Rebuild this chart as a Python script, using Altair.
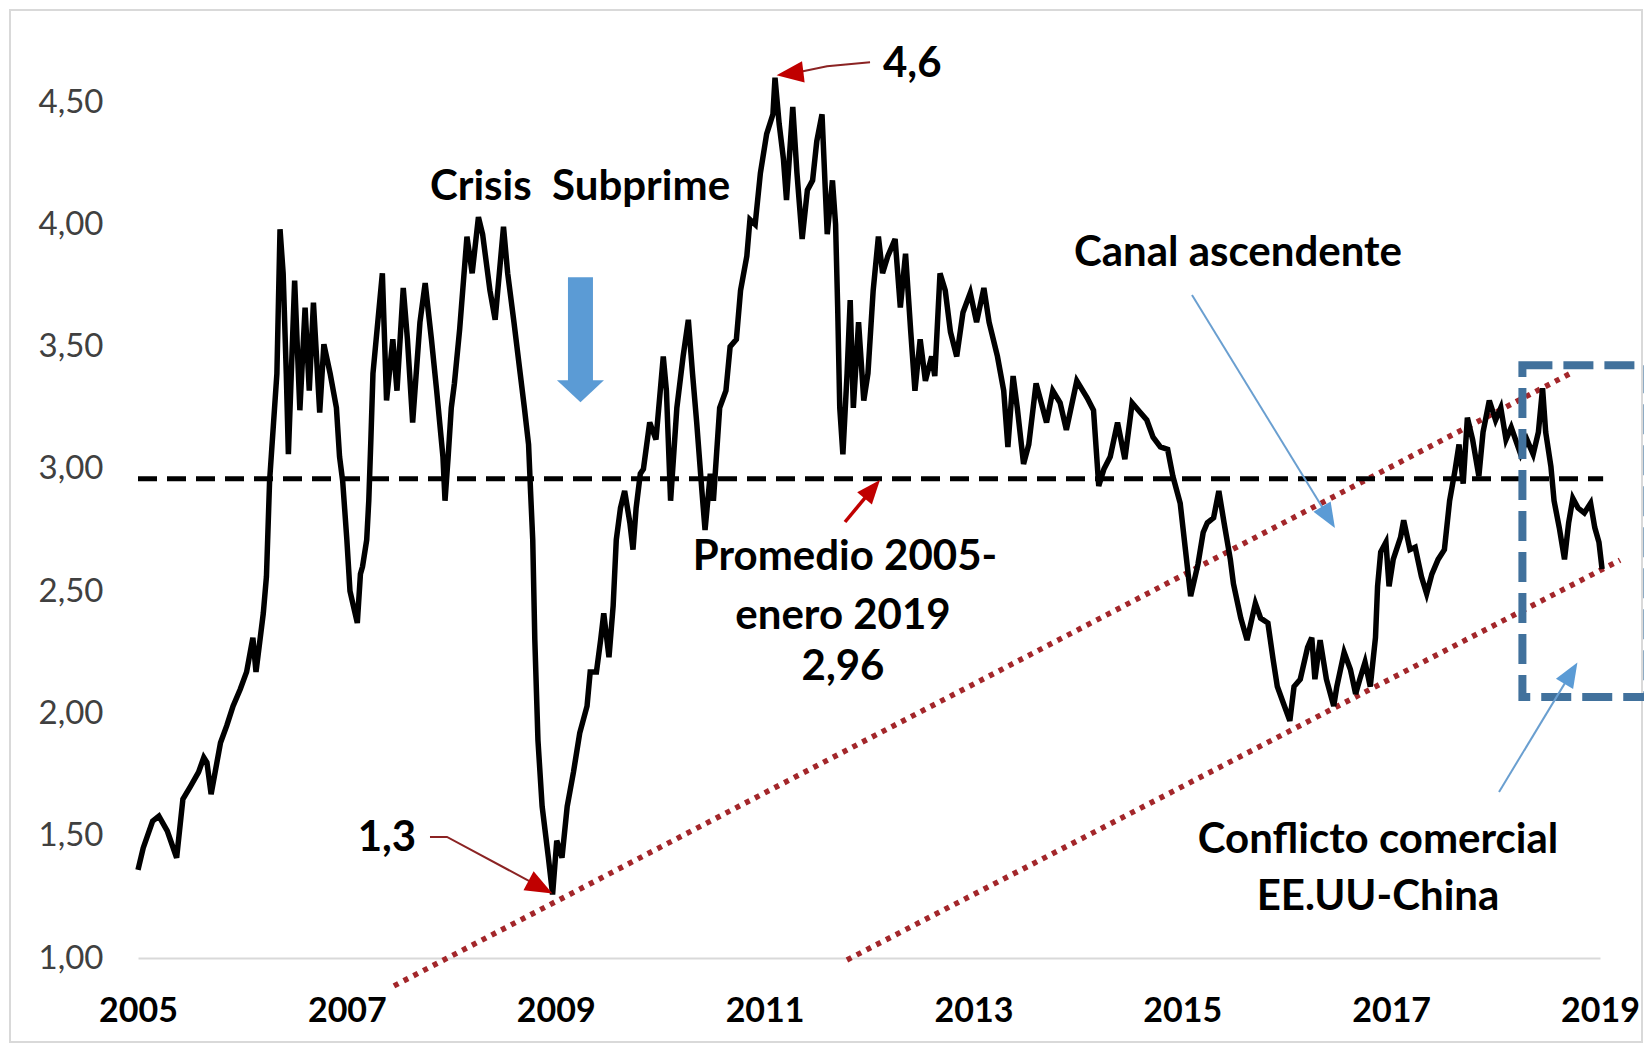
import altair as alt
import pandas as pd

# ---------------- data ----------------
years = [
    2005.00, 2005.05, 2005.14, 2005.20, 2005.28, 2005.37, 2005.43, 2005.50, 2005.58, 2005.63,
    2005.66, 2005.70, 2005.79, 2005.85, 2005.91, 2005.98, 2006.04, 2006.10, 2006.13, 2006.20,
    2006.23, 2006.26, 2006.33, 2006.36, 2006.39, 2006.42, 2006.44, 2006.50, 2006.55, 2006.60,
    2006.64, 2006.68, 2006.74, 2006.78, 2006.84, 2006.90, 2006.93, 2006.96, 2007.00, 2007.03,
    2007.10, 2007.13, 2007.15, 2007.19, 2007.21, 2007.23, 2007.25, 2007.34, 2007.38, 2007.44,
    2007.48, 2007.54, 2007.58, 2007.63, 2007.70, 2007.75, 2007.81, 2007.86, 2007.92, 2007.94,
    2007.97, 2008.00, 2008.03, 2008.08, 2008.15, 2008.20, 2008.26, 2008.30, 2008.37, 2008.42,
    2008.50, 2008.54, 2008.60, 2008.66, 2008.70, 2008.74, 2008.76, 2008.78, 2008.80, 2008.83,
    2008.87, 2008.93, 2008.97, 2009.01, 2009.06, 2009.11, 2009.17, 2009.23, 2009.30, 2009.33,
    2009.39, 2009.43, 2009.46, 2009.51, 2009.55, 2009.58, 2009.62, 2009.66, 2009.71, 2009.74,
    2009.77, 2009.81, 2009.84, 2009.90, 2009.96, 2010.03, 2010.06, 2010.10, 2010.16, 2010.22,
    2010.27, 2010.31, 2010.35, 2010.40, 2010.43, 2010.48, 2010.51, 2010.57, 2010.63, 2010.67,
    2010.73, 2010.77, 2010.83, 2010.86, 2010.91, 2010.96, 2011.02, 2011.08, 2011.10, 2011.14,
    2011.18, 2011.21, 2011.27, 2011.31, 2011.36, 2011.41, 2011.46, 2011.50, 2011.55, 2011.60,
    2011.65, 2011.68, 2011.70, 2011.72, 2011.75, 2011.79, 2011.82, 2011.85, 2011.90, 2011.95,
    2011.99, 2012.04, 2012.09, 2012.13, 2012.18, 2012.25, 2012.30, 2012.35, 2012.40, 2012.44,
    2012.49, 2012.54, 2012.60, 2012.63, 2012.68, 2012.73, 2012.78, 2012.84, 2012.90, 2012.97,
    2013.03, 2013.10, 2013.15, 2013.23, 2013.29, 2013.33, 2013.38, 2013.42, 2013.48, 2013.53,
    2013.60, 2013.70, 2013.76, 2013.83, 2013.89, 2013.99, 2014.09, 2014.15, 2014.20, 2014.25,
    2014.31, 2014.38, 2014.45, 2014.52, 2014.60, 2014.66, 2014.72, 2014.79, 2014.86, 2014.91,
    2014.98, 2015.03, 2015.08, 2015.15, 2015.20, 2015.24, 2015.30, 2015.35, 2015.40, 2015.46,
    2015.49, 2015.53, 2015.56, 2015.62, 2015.70, 2015.75, 2015.82, 2015.87, 2015.91, 2015.97,
    2016.03, 2016.07, 2016.13, 2016.20, 2016.24, 2016.27, 2016.32, 2016.38, 2016.45, 2016.48,
    2016.55, 2016.61, 2016.66, 2016.70, 2016.75, 2016.80, 2016.85, 2016.87, 2016.90, 2016.95,
    2016.98, 2017.02, 2017.09, 2017.12, 2017.18, 2017.23, 2017.29, 2017.34, 2017.39, 2017.45,
    2017.51, 2017.56, 2017.61, 2017.65, 2017.69, 2017.73, 2017.78, 2017.84, 2017.88, 2017.94,
    2018.00, 2018.05, 2018.10, 2018.15, 2018.24, 2018.30, 2018.36, 2018.41, 2018.45, 2018.48,
    2018.53, 2018.56, 2018.61, 2018.66, 2018.70, 2018.74, 2018.79, 2018.85, 2018.91, 2018.95,
    2018.99, 2019.02,
]
price = [
    1.36, 1.45, 1.56, 1.58, 1.52, 1.41, 1.65, 1.70, 1.76, 1.82,
    1.80, 1.67, 1.88, 1.95, 2.03, 2.10, 2.17, 2.31, 2.17, 2.41,
    2.56, 2.95, 3.39, 3.98, 3.80, 3.39, 3.06, 3.77, 3.24, 3.66,
    3.32, 3.68, 3.23, 3.51, 3.39, 3.25, 3.05, 2.95, 2.71, 2.50,
    2.37, 2.57, 2.60, 2.71, 2.87, 3.12, 3.39, 3.80, 3.28, 3.53,
    3.32, 3.74, 3.53, 3.19, 3.60, 3.76, 3.53, 3.32, 3.05, 2.87,
    3.05, 3.25, 3.35, 3.57, 3.95, 3.80, 4.03, 3.96, 3.73, 3.61,
    3.99, 3.80, 3.60, 3.39, 3.25, 3.10, 2.90, 2.71, 2.30, 1.89,
    1.62, 1.41, 1.26, 1.48, 1.41, 1.62, 1.76, 1.92, 2.03, 2.17,
    2.17, 2.30, 2.41, 2.23, 2.44, 2.71, 2.84, 2.91, 2.78, 2.67,
    2.84, 2.98, 3.00, 3.19, 3.12, 3.46, 3.32, 2.87, 3.25, 3.46,
    3.61, 3.39, 3.19, 2.91, 2.75, 2.98, 2.87, 3.25, 3.32, 3.50,
    3.53, 3.73, 3.87, 4.02, 4.00, 4.21, 4.37, 4.45, 4.60, 4.41,
    4.27, 4.10, 4.48, 4.21, 3.94, 4.14, 4.18, 4.34, 4.45, 3.96,
    4.18, 4.00, 3.66, 3.25, 3.06, 3.39, 3.69, 3.25, 3.60, 3.28,
    3.39, 3.73, 3.95, 3.80, 3.87, 3.94, 3.66, 3.88, 3.56, 3.32,
    3.53, 3.36, 3.46, 3.38, 3.80, 3.73, 3.56, 3.46, 3.64, 3.72,
    3.60, 3.74, 3.60, 3.46, 3.32, 3.09, 3.38, 3.25, 3.02, 3.10,
    3.35, 3.19, 3.32, 3.27, 3.16, 3.36, 3.29, 3.24, 2.93, 3.00,
    3.05, 3.19, 3.04, 3.27, 3.23, 3.20, 3.13, 3.09, 3.08, 2.97,
    2.86, 2.67, 2.48, 2.61, 2.74, 2.78, 2.80, 2.91, 2.78, 2.63,
    2.53, 2.45, 2.39, 2.30, 2.45, 2.39, 2.37, 2.22, 2.11, 2.04,
    1.97, 2.11, 2.14, 2.27, 2.31, 2.14, 2.30, 2.14, 2.03, 2.11,
    2.25, 2.18, 2.08, 2.14, 2.21, 2.11, 2.31, 2.52, 2.66, 2.70,
    2.52, 2.63, 2.72, 2.79, 2.67, 2.68, 2.56, 2.49, 2.57, 2.63,
    2.67, 2.87, 2.99, 3.10, 2.94, 3.21, 3.12, 2.97, 3.15, 3.28,
    3.20, 3.25, 3.12, 3.17, 3.06, 3.12, 3.06, 3.15, 3.33, 3.15,
    3.01, 2.87, 2.76, 2.63, 2.78, 2.88, 2.84, 2.82, 2.86, 2.76,
    2.70, 2.59,
]
average_value = 2.96
x_tick_years = [2005, 2007, 2009, 2011, 2013, 2015, 2017, 2019]
y_tick_values = [1.0, 1.5, 2.0, 2.5, 3.0, 3.5, 4.0, 4.5]

# channel (trend) lines: start/end points in data units
channel_t = [2007.451, 2018.741, 2011.789, 2019.192]
channel_p = [0.886, 3.396, 0.992, 2.627]
channel_id = ["superior", "superior", "inferior", "inferior"]

# annotation texts
note_text = ["4,6", "Crisis\u00a0 Subprime", "Canal ascendente", "Promedio 2005-",
             "enero 2019", "2,96", "1,3", "Conflicto comercial", "EE.UU-China"]
note_t = [2012.134, 2009.233, 2015.533, 2011.770, 2011.751, 2011.751, 2007.384, 2016.874, 2016.874]
note_p = [4.655, 4.152, 3.882, 2.639, 2.398, 2.190, 1.491, 1.482, 1.249]
note_align = ["left", "center", "center", "center", "center", "center", "center", "center", "center"]

FONT = "Lato"

# ---------------- scales / axes ----------------
xscale = alt.Scale(domain=[2005, 2019], nice=False, zero=False)
yscale = alt.Scale(domain=[1.0, 4.75], nice=False, zero=False)

X = alt.X("t:Q", scale=xscale, title=None,
          axis=alt.Axis(values=x_tick_years, format="d", grid=False, ticks=False, tickSize=0,
                        domainColor="#D9D9D9", domainWidth=2, labelFont=FONT, labelFontSize=34,
                        labelFontWeight="bold", labelColor="#000000", labelPadding=36,
                        labelFlush=False, labelOverlap=False))
Y = alt.Y("p:Q", scale=yscale, title=None,
          axis=alt.Axis(values=y_tick_values,
                        labelExpr="replace(format(datum.value, '.2f'), '.', ',')",
                        grid=False, domain=False, ticks=False, tickSize=0, labelPadding=35,
                        labelFont=FONT, labelFontSize=33, labelColor="#404040",
                        labelOverlap=False))

price_df = pd.DataFrame({"t": years, "p": price})

# frame around the whole chart (decoration)
frame = alt.Chart(pd.DataFrame({"a": [0]})).mark_rect(
    fill=None, stroke="#D9D9D9", strokeWidth=2
).encode(x=alt.value(-128), x2=alt.value(1504), y=alt.value(-31), y2=alt.value(1001))

# average dashed line
avg_df = pd.DataFrame({"t": [2005.0], "t2": [2019.03], "p": [average_value]})
avg_line = alt.Chart(avg_df).mark_rule(color="#000000", strokeWidth=5, strokeDash=[19, 10]).encode(
    x=X, x2=alt.X2("t2"), y=Y)

# red dotted channel lines
chan_df = pd.DataFrame({"t": channel_t, "p": channel_p, "id": channel_id})
channel = alt.Chart(chan_df).mark_line(color="#A3262A", strokeWidth=5.5, strokeDash=[5, 6]).encode(
    x=X, y=Y, detail="id:N")

# price line
line = alt.Chart(price_df).mark_line(color="#000000", strokeWidth=5.5, strokeJoin="miter").encode(x=X, y=Y)

# blue dashed box
box_df = pd.DataFrame({"t": [2018.257], "t2": [2019.454], "p": [3.424], "p2": [2.067]})
box = alt.Chart(box_df).mark_rect(fill=None, stroke="#41719C", strokeWidth=8,
                                  strokeDash=[30, 11]).encode(
    x=X, x2=alt.X2("t2"), y=Y, y2=alt.Y2("p2"))

# big blue block arrow (Crisis Subprime)
shaft_df = pd.DataFrame({"t": [2009.237], "p": [3.784], "p2": [3.355]})
shaft = alt.Chart(shaft_df).mark_rule(color="#5B9BD5", strokeWidth=25).encode(
    x=X, y=Y, y2=alt.Y2("p2"))
bighead_df = pd.DataFrame({"t": [2009.237], "p": [3.318]})
bighead = alt.Chart(bighead_df).mark_point(
    shape="M-1,-0.47L1,-0.47L0,0.47Z", filled=True, size=2209, color="#5B9BD5", opacity=1,
    strokeWidth=0).encode(x=X, y=Y)

# straight arrow shafts
shafts_df = pd.DataFrame({
    "t": [2015.093, 2018.033, 2011.770],
    "p": [3.711, 1.679, 2.783],
    "t2": [2016.400, 2018.722, 2012.031],
    "p2": [2.802, 2.165, 2.917],
    "col": ["#6A9FD0", "#6A9FD0", "#C00000"],
    "w": [2, 2, 3.5],
})
arrow_shafts = alt.Chart(shafts_df).mark_rule().encode(
    x=X, y=Y, x2=alt.X2("t2"), y2=alt.Y2("p2"),
    color=alt.Color("col:N", scale=None), strokeWidth=alt.StrokeWidth("w:Q", scale=None))

# bent/curved red arrow shafts
bent_df = pd.DataFrame({
    "t": [2007.796, 2007.959, 2008.854, 2012.010, 2011.598, 2011.368, 2011.243],
    "p": [1.495, 1.495, 1.290, 4.663, 4.647, 4.626, 4.617],
    "id": ["a", "a", "a", "b", "b", "b", "b"],
    "o": [0, 1, 2, 0, 1, 2, 3],
})
bent = alt.Chart(bent_df).mark_line(color="#8B2323", strokeWidth=2).encode(
    x=X, y=Y, detail="id:N", order="o:Q")

# arrow heads
heads_df = pd.DataFrame({
    "t": [2016.400, 2018.722, 2012.031, 2008.854, 2011.243],
    "p": [2.802, 2.165, 2.917, 1.290, 4.617],
    "ang": [149, 31, 40, 118, 263],
    "sz": [625, 625, 576, 729, 729],
    "col": ["#5B9BD5", "#5B9BD5", "#C00000", "#C00000", "#C00000"],
})
heads = alt.Chart(heads_df).mark_point(
    shape="M0,-1L0.8,1L-0.8,1Z", filled=True, opacity=1, strokeWidth=0).encode(
    x=X, y=Y, angle=alt.Angle("ang:Q", scale=None), size=alt.Size("sz:Q", scale=None),
    fill=alt.Fill("col:N", scale=None))

# texts
notes_df = pd.DataFrame({"t": note_t, "p": note_p, "label": note_text, "al": note_align})
notes_c = alt.Chart(notes_df[notes_df.al == "center"]).mark_text(
    font=FONT, fontSize=42, fontWeight="bold", color="#000000", align="center", baseline="middle"
).encode(x=X, y=Y, text="label:N")
notes_l = alt.Chart(notes_df[notes_df.al == "left"]).mark_text(
    font=FONT, fontSize=42, fontWeight="bold", color="#000000", align="left", baseline="middle"
).encode(x=X, y=Y, text="label:N")

chart = alt.layer(
    frame, channel, avg_line, line, box, shaft, bighead, arrow_shafts, bent, heads, notes_c, notes_l
).properties(
    width=1462, height=917,
    autosize=alt.AutoSizeParams(type="none"),
    padding={"left": 130, "top": 33, "right": 44, "bottom": 86},
    background="#FFFFFF",
).configure_view(stroke=None)

chart.save("out.html", embed_options={"renderer": "svg", "actions": False})
